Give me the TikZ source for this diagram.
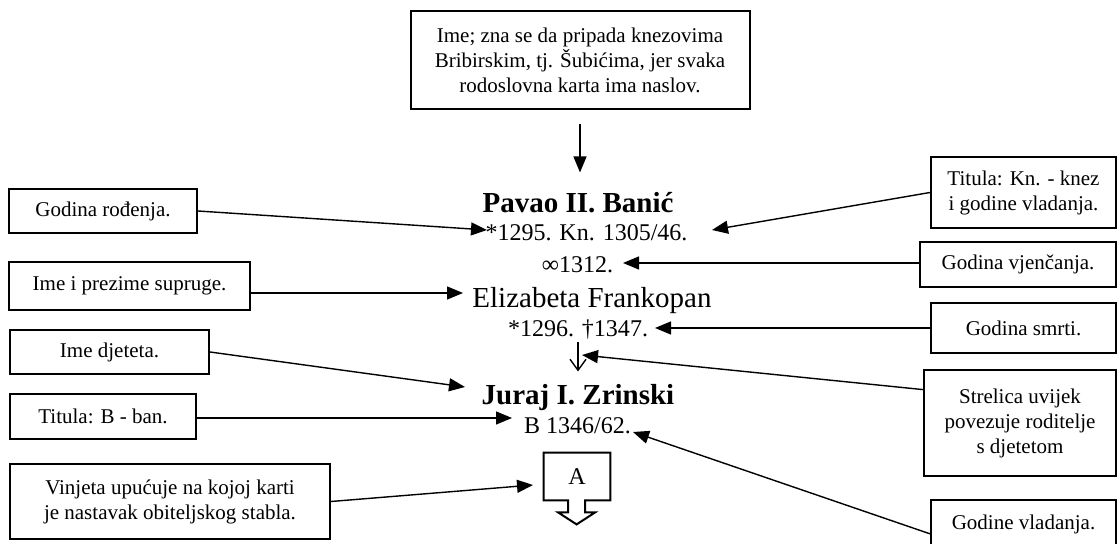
\documentclass[tikz,border=0pt]{standalone}
\usepackage{fontspec}
\setmainfont{Liberation Serif}
\usetikzlibrary{arrows.meta}

\tikzset{
	okvir/.style = {draw, line width = 1pt, align = center, inner sep = 0pt, font = \fontsize{10.5}{12.5}\selectfont},
	ime/.style = {inner sep = 0pt, anchor = base, font = \fontsize{14.5}{17}\selectfont\bfseries},
	podatak/.style = {inner sep = 0pt, anchor = base, font = \fontsize{12}{14}\selectfont},
	veza/.style = {line width = 0.7pt, -{Triangle[length = 8pt, width = 6.5pt]}},
	potomak/.style = {line width = 0.7pt, -{Straight Barb[length = 5.5pt, width = 8pt]}}
}

\begin{document}
\begin{tikzpicture}[x = 0.5pt, y = -0.5pt]
		\useasboundingbox (0,0) rectangle (1118,544);
		\clip (0,0) rectangle (1118,544);
		\node[okvir, minimum width = 169.5pt, minimum height = 49pt] (naslov) at (580,60) {Ime; zna se da pripada knezovima\\Bribirskim, tj. Šubićima, jer svaka\\rodoslovna karta ima naslov.};
		\node[ime] (pavao) at (578,213) {Pavao II. Banić};
		\node[podatak] (knez) at (586.5,241) {*1295. Kn. 1305/46.};
		\node[podatak] (vjencanje) at (577.5,273) {∞1312.};
		\node[ime, font = \fontsize{14.5}{17}\selectfont] (supruga) at (592,308) {Elizabeta Frankopan};
		\node[podatak] (zivot) at (578,337) {*1296. †1347.};
		\node[ime] (juraj) at (578,405) {Juraj I. Zrinski};
		\node[podatak] (ban) at (577.5,434) {B 1346/62.};
		\node[inner sep = 0pt, minimum width = 33pt, minimum height = 23.5pt, font = \fontsize{12}{14}\selectfont] (vinjeta) at (577,476.5) {A};
		\draw[line width = 1pt] (vinjeta.south east) -- (vinjeta.north east) -- (vinjeta.north west) -- (vinjeta.south west) -- ++(24.5,0) -- ++(0,12) -- ++(-10,0) -- ++(18.5,12) -- ++(18.5,-12) -- ++(-10,0) -- ++(0,-12) -- cycle;
		\node[okvir, minimum width = 94pt, minimum height = 22pt] (rodjenje) at (103,211) {Godina rođenja.};
		\node[okvir, minimum width = 120.5pt, minimum height = 24pt] (prezime) at (129.5,286) {Ime i prezime supruge.};
		\node[okvir, minimum width = 99.5pt, minimum height = 22pt] (dijete) at (109.5,352) {Ime djeteta.};
		\node[okvir, minimum width = 93pt, minimum height = 22.5pt] (titulab) at (103,416.5) {Titula: B - ban.};
		\node[okvir, minimum width = 160pt, minimum height = 37.5pt] (karta) at (170,501.5) {Vinjeta upućuje na kojoj karti\\je nastavak obiteljskog stabla.};
		\node[okvir, minimum width = 92.5pt, minimum height = 35.5pt] (titulakn) at (1023.5,192.5) {Titula: Kn. - knez\\i godine vladanja.};
		\node[okvir, minimum width = 98pt, minimum height = 22.5pt] (vjencanjeokvir) at (1018,264.5) {Godina vjenčanja.};
		\node[okvir, minimum width = 92.5pt, minimum height = 25pt] (smrt) at (1023.5,328) {Godina smrti.};
		\node[okvir, minimum width = 96pt, minimum height = 53pt] (strelica) at (1020,423) {Strelica uvijek\\povezuje roditelje\\s djetetom};
		\node[okvir, minimum width = 92.5pt, minimum height = 24pt] (vladanje) at (1023.5,524) {Godine vladanja.};
		\coordinate (t1) at (487,230);
		\coordinate (t2) at (463,293);
		\coordinate (t3) at (465,387);
		\coordinate (t4) at (512,418);
		\coordinate (t5) at (533,485);
		\coordinate (t6) at (712,230);
		\coordinate (t7) at (623,263);
		\coordinate (t8) at (655,328);
		\coordinate (t9) at (582,355);
		\coordinate (t10) at (633,432);
		\draw[veza, shorten <= 7pt, shorten >= 10pt] (naslov.south) -- (naslov.south |- pavao.north);
		\draw[potomak, shorten <= 1pt, shorten >= 6.5pt] (zivot.south) -- (zivot.south |- juraj.north);
		\draw[veza] (rodjenje.east) -- (t1);
		\draw[veza] (prezime.east |- t2) -- (t2);
		\draw[veza] (dijete.east) -- (t3);
		\draw[veza] (titulab.east |- t4) -- (t4);
		\draw[veza] (karta.east) -- (t5);
		\draw[veza] (titulakn.west) -- (t6);
		\draw[veza] (vjencanjeokvir.west |- t7) -- (t7);
		\draw[veza] (smrt.west |- t8) -- (t8);
		\draw[veza] (strelica.161) -- (t9);
		\draw[veza] (vladanje.186) -- (t10);
\end{tikzpicture}
\end{document}
